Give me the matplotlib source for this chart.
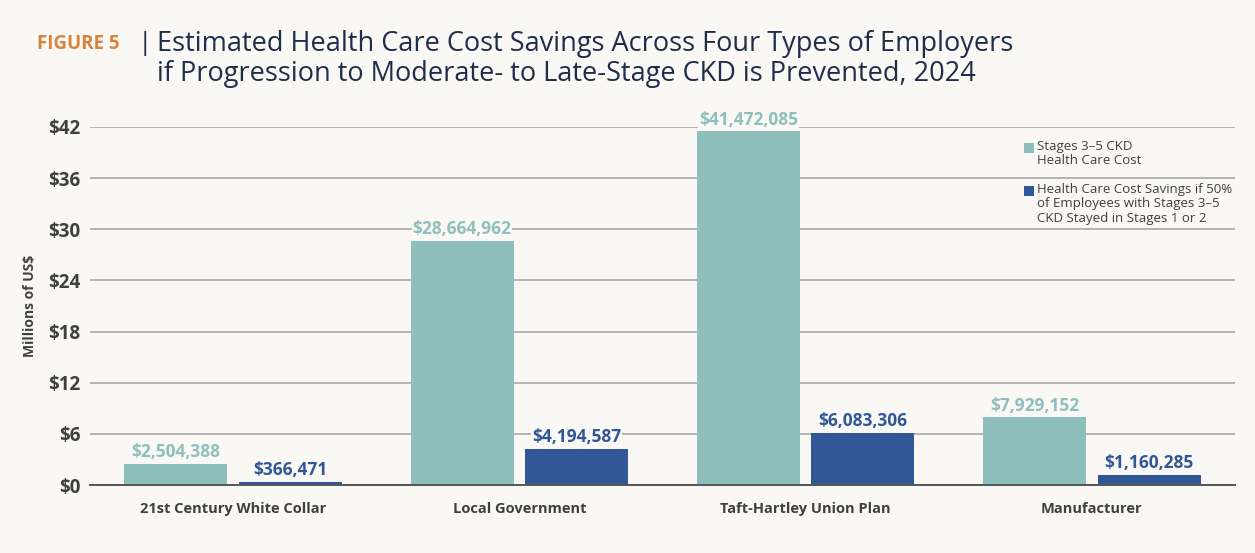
import matplotlib
matplotlib.use("Agg")
import matplotlib.pyplot as plt
import numpy as np
from matplotlib.patches import Rectangle

plt.rcParams["font.family"] = ["Open Sans", "DejaVu Sans"]

CATEGORIES = ["21st Century White Collar", "Local Government",
              "Taft-Hartley Union Plan", "Manufacturer"]
COST = [2504388, 28664962, 41472085, 7929152]
SAVINGS = [366471, 4194587, 6083306, 1160285]
SERIES = ["Stages 3\u20135 CKD\nHealth Care Cost",
          "Health Care Cost Savings if 50%\nof Employees with Stages 3\u20135\nCKD Stayed in Stages 1 or 2"]
YTICKS = [0, 6, 12, 18, 24, 30, 36, 42]

BG = "#FAF8F5"
TEAL = "#8FBFBC"
NAVY = "#305896"
TXT = "#3F3F3F"
TITLE = "#1F2D4A"

fig = plt.figure(figsize=(12.55, 5.53), dpi=100, facecolor=BG)
ax = fig.add_axes([90 / 1255, 68 / 553, 1145 / 1255, 358 / 553])
ax.set_facecolor(BG)

x = np.arange(len(CATEGORIES))
w, off = 0.36, 0.2
cost_m = np.array(COST) / 1e6
sav_m = np.array(SAVINGS) / 1e6
ax.bar(x - off, cost_m, width=w, color=TEAL, zorder=2)
ax.bar(x + off, sav_m, width=w, color=NAVY, zorder=2)

for xs, vals, raws, col in ((x - off, cost_m, COST, TEAL), (x + off, sav_m, SAVINGS, NAVY)):
    for xi, v, raw in zip(xs, vals, raws):
        ax.annotate(f"${raw:,}", (xi, v), xytext=(0, 2), textcoords="offset points",
                    ha="center", va="bottom", fontsize=12.5, fontweight="bold",
                    color=col, zorder=3, annotation_clip=False,
                    bbox=dict(facecolor=BG, edgecolor="none", pad=0.5))

ax.set_xlim(-0.5, 3.5)
ax.set_ylim(0, 42)
ax.set_yticks(YTICKS)
ax.set_yticklabels([f"${t}" for t in YTICKS], fontsize=13.5, fontweight="bold", color=TXT)
ax.set_xticks(x)
ax.set_xticklabels(CATEGORIES, fontsize=10.5, fontweight="bold", color=TXT)
ax.tick_params(axis="both", length=0)
ax.tick_params(axis="y", pad=7)
ax.tick_params(axis="x", pad=12)
ax.grid(axis="y", color="#A8A8A8", lw=1.2, zorder=1)
ax.set_axisbelow(True)
for s in ("top", "right", "left"):
    ax.spines[s].set_visible(False)
ax.spines["bottom"].set_color("#555555")
ax.spines["bottom"].set_linewidth(1.4)
ax.spines["bottom"].set_zorder(4)
ax.set_ylabel("Millions of US$", fontsize=10, fontweight="bold", color=TXT)
ax.yaxis.set_label_coords((37 - 90) / 1145, 0.5)

# legend drawn by hand so the swatch sits on the first text line
for ytop, col, lab in ((0.958, TEAL, SERIES[0]), (0.838, NAVY, SERIES[1])):
    ax.add_patch(Rectangle((0.8157, ytop - 0.03), 0.0087, 0.028, transform=ax.transAxes,
                           facecolor=col, edgecolor="none", clip_on=False, zorder=3))
    ax.text(0.827, ytop + 0.006, lab, transform=ax.transAxes, ha="left", va="top",
            fontsize=9.5, color=TXT, linespacing=1.15, zorder=3)

fig.text(37 / 1255, 1 - 44 / 553, "FIGURE 5", fontsize=13.5, fontweight="bold",
         color="#D9823B", va="center", ha="left")
fig.text(138 / 1255, 1 - 44 / 553, "|", fontsize=19, color=TITLE,
         va="center", ha="left")
fig.text(157 / 1255, 1 - 44 / 553, "Estimated Health Care Cost Savings Across Four Types of Employers",
         fontsize=19.5, color=TITLE, va="center", ha="left")
fig.text(157 / 1255, 1 - 74 / 553, "if Progression to Moderate- to Late-Stage CKD is Prevented, 2024",
         fontsize=19.5, color=TITLE, va="center", ha="left")

fig.savefig("out.png", dpi=100, facecolor=BG)
